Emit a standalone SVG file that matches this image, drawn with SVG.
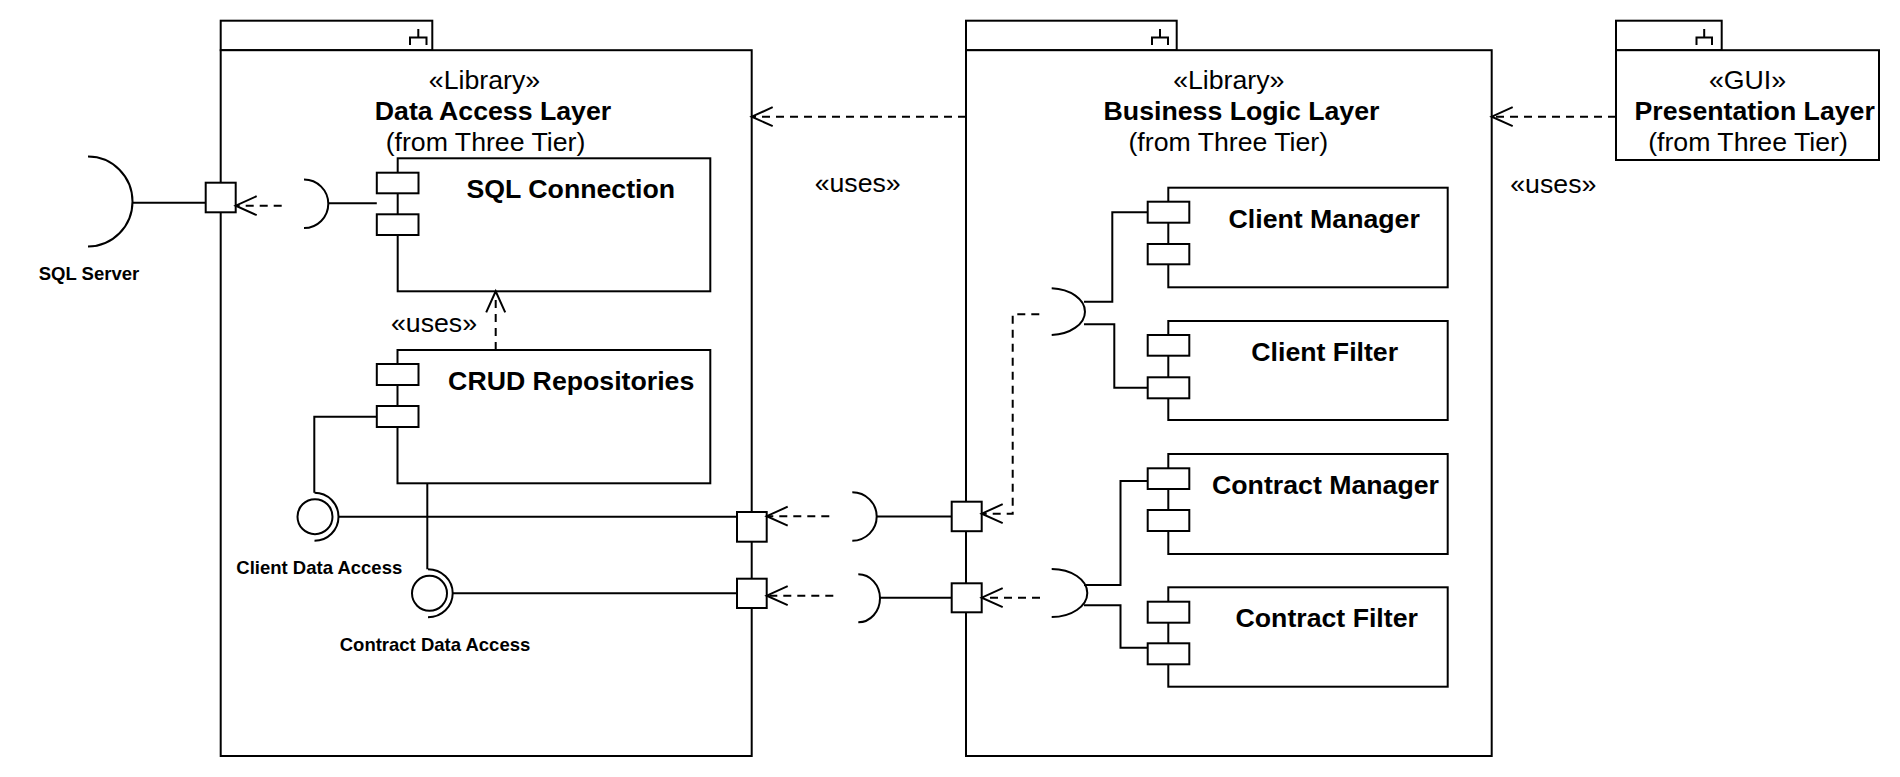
<svg xmlns="http://www.w3.org/2000/svg" width="1900" height="777" viewBox="0 0 1900 777">
  <style>
    .box { fill: #ffffff; stroke: #000000; stroke-width: 2; }
    .ln { fill: none; stroke: #000000; stroke-width: 2; }
    .dash { fill: none; stroke: #000000; stroke-width: 2; stroke-dasharray: 8 6; marker-end: url(#open); }
    .t { font-family: "Liberation Sans", Arial, sans-serif; font-size: 26.7px; fill: #000000; text-anchor: middle; }
    .b { font-weight: bold; }
    .s { font-family: "Liberation Sans", Arial, sans-serif; font-size: 18.5px; font-weight: bold; fill: #000000; text-anchor: middle; }
  </style>
  <defs>
    <marker id="open" markerUnits="userSpaceOnUse" markerWidth="24" markerHeight="22" refX="21" refY="9.5" orient="auto" overflow="visible">
      <path d="M0,0 L21,9.5 L0,19" fill="none" stroke="#000000" stroke-width="2" stroke-dasharray="none"/>
    </marker>
  </defs>
  <rect width="1900" height="777" fill="#ffffff"/>

  <g id="data-access-layer">
    <rect class="box" x="220.7" y="20.7" width="211.6" height="29.5"/>
    <rect class="box" x="220.7" y="50.2" width="531" height="705.8"/>
    <path class="ln" d="M418.3,29 V37.5 M410,45 V37.5 H426.5 V45"/>
    <text class="t" x="484.5" y="88.5">«Library»</text>
    <text class="t b" x="493" y="119.5">Data Access Layer</text>
    <text class="t" x="485.5" y="150.5">(from Three Tier)</text>
  </g>

  <g id="business-logic-layer">
    <rect class="box" x="966" y="20.7" width="210.7" height="29.5"/>
    <rect class="box" x="966" y="50.2" width="525.7" height="705.8"/>
    <path class="ln" d="M1160,29 V37.5 M1152,45 V37.5 H1168 V45"/>
    <text class="t" x="1228.8" y="88.5">«Library»</text>
    <text class="t b" x="1241.5" y="119.5">Business Logic Layer</text>
    <text class="t" x="1228.3" y="150.5">(from Three Tier)</text>
  </g>

  <g id="presentation-layer">
    <rect class="box" x="1616" y="20.7" width="105.7" height="29.5"/>
    <rect class="box" x="1616" y="50.2" width="263" height="109.8"/>
    <path class="ln" d="M1704.2,29 V37.5 M1696.5,45 V37.5 H1712 V45"/>
    <text class="t" x="1747.5" y="88.5">«GUI»</text>
    <text class="t b" x="1754.7" y="119.5">Presentation Layer</text>
    <text class="t" x="1748" y="150.5">(from Three Tier)</text>
  </g>

  <g id="sql-connection">
    <rect class="box" x="397.7" y="158.3" width="312.6" height="133"/>
    <rect class="box" x="376.8" y="172.7" width="41.7" height="20.6"/>
    <rect class="box" x="376.8" y="214.3" width="41.7" height="20.7"/>
    <text class="t b" x="570.8" y="198.3">SQL Connection</text>
  </g>

  <g id="crud-repositories">
    <rect class="box" x="397.5" y="350" width="312.8" height="133.3"/>
    <rect class="box" x="376.8" y="364" width="41.7" height="21"/>
    <rect class="box" x="376.8" y="406" width="41.7" height="21"/>
    <text class="t b" x="571.2" y="390">CRUD Repositories</text>
  </g>

  <g id="client-manager">
    <rect class="box" x="1168.3" y="187.7" width="279.4" height="99.6"/>
    <rect class="box" x="1147.7" y="201.7" width="41.6" height="21"/>
    <rect class="box" x="1147.7" y="244" width="41.6" height="20.3"/>
    <text class="t b" x="1324.2" y="228.3">Client Manager</text>
  </g>

  <g id="client-filter">
    <rect class="box" x="1168.3" y="321" width="279.4" height="99"/>
    <rect class="box" x="1147.7" y="335" width="41.6" height="20.7"/>
    <rect class="box" x="1147.7" y="377.3" width="41.6" height="21"/>
    <text class="t b" x="1324.7" y="361">Client Filter</text>
  </g>

  <g id="contract-manager">
    <rect class="box" x="1168.3" y="454" width="279.4" height="100"/>
    <rect class="box" x="1147.7" y="468.3" width="41.6" height="20.7"/>
    <rect class="box" x="1147.7" y="510" width="41.6" height="21"/>
    <text class="t b" x="1325.5" y="494">Contract Manager</text>
  </g>

  <g id="contract-filter">
    <rect class="box" x="1168.3" y="587.3" width="279.4" height="99.4"/>
    <rect class="box" x="1147.7" y="601.7" width="41.6" height="21"/>
    <rect class="box" x="1147.7" y="643.3" width="41.6" height="21"/>
    <text class="t b" x="1326.7" y="627.3">Contract Filter</text>
  </g>

  <g id="sql-server">
    <path class="ln" d="M88,156.5 A44.5,45 0 0 1 88,246.5"/>
    <text class="s" x="89" y="280">SQL Server</text>
  </g>

  <g id="client-data-access">
    <circle class="box" cx="315" cy="516.7" r="17.5"/>
    <text class="s" x="319.3" y="574.3">Client Data Access</text>
  </g>

  <g id="contract-data-access">
    <circle class="box" cx="429.5" cy="593.3" r="17.5"/>
    <text class="s" x="435" y="650.7">Contract Data Access</text>
  </g>

  <g id="ports">
    <rect class="box" x="205.7" y="182.7" width="30" height="29.6"/>
    <rect class="box" x="737" y="512" width="29.7" height="29.7"/>
    <rect class="box" x="737" y="578.7" width="29.7" height="29.3"/>
    <rect class="box" x="951.7" y="501.7" width="30" height="29.5"/>
    <rect class="box" x="951.7" y="583.3" width="30" height="29"/>
  </g>

  <g id="connectors">
    <!-- package dependencies -->
    <path class="dash" d="M1616,116.7 H1491.7"/>
    <path class="dash" d="M966,116.7 H751.7"/>
    <text class="t" x="1553.3" y="193">«uses»</text>
    <text class="t" x="857.7" y="192">«uses»</text>

    <!-- CRUD uses SQL Connection -->
    <path class="dash" d="M495.7,350 V291.3"/>
    <text class="t" x="434" y="331.5">«uses»</text>

    <!-- SQL Connection to SQL Server -->
    <path class="ln" d="M376.8,203.3 H328"/>
    <path class="ln" d="M304,179.5 A24.3,24.3 0 0 1 304,228.1"/>
    <path class="dash" d="M281.7,205.7 H235.7"/>
    <path class="ln" d="M205.7,202.7 H132.5"/>

    <!-- CRUD provided interfaces -->
    <path class="ln" d="M376.8,416.7 H314.3 V492.7"/>
    <path class="ln" d="M314.5,492.7 A24,24 0 0 1 314.5,540.7"/>
    <path class="ln" d="M338.5,516.7 H737"/>
    <path class="ln" d="M427.3,483.3 V569.3"/>
    <path class="ln" d="M428,569.3 A24.7,24 0 0 1 428,617.3"/>
    <path class="ln" d="M452.7,593.3 H737"/>

    <!-- BLL required interfaces to DAL ports -->
    <path class="dash" d="M829.3,516.2 H766.7"/>
    <path class="ln" d="M852.3,492.3 A24.4,24.2 0 0 1 852.3,540.7"/>
    <path class="ln" d="M876.7,516.5 H951.7"/>
    <path class="dash" d="M833.3,595.7 H766.7"/>
    <path class="ln" d="M858.3,574.3 A21.7,24 0 0 1 858.3,622.3"/>
    <path class="ln" d="M880,597.7 H951.7"/>

    <!-- Client components socket -->
    <path class="ln" d="M1051.7,288.3 A35.6,23.4 0 0 1 1051.7,335"/>
    <path class="ln" d="M1084,301.7 H1112.3 V212.3 H1147.7"/>
    <path class="ln" d="M1084,324.3 H1114.3 V387.7 H1147.7"/>
    <path class="dash" d="M1039.3,314.3 H1012.7 V513.7 H981.7"/>

    <!-- Contract components socket -->
    <path class="ln" d="M1051.7,569 A35.6,24 0 0 1 1051.7,617"/>
    <path class="ln" d="M1084,585 H1120.5 V481 H1147.7"/>
    <path class="ln" d="M1084,605.3 H1120.5 V647.7 H1147.7"/>
    <path class="dash" d="M1040,597.7 H981.7"/>
  </g>
</svg>
